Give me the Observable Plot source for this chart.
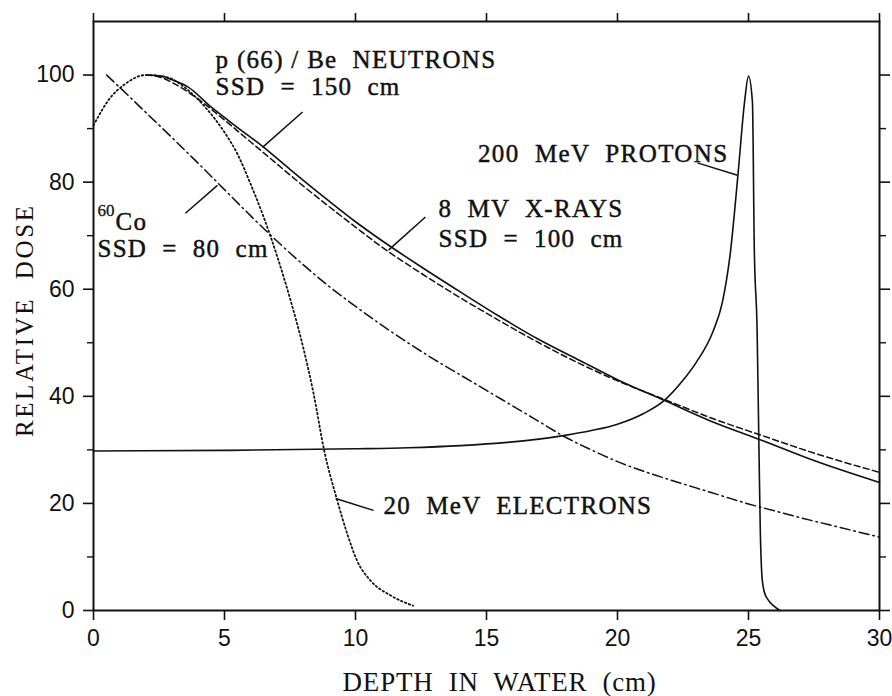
<!DOCTYPE html>
<html><head><meta charset="utf-8">
<script src="https://cdn.jsdelivr.net/npm/d3@7"></script>
<script src="https://cdn.jsdelivr.net/npm/@observablehq/plot@0.6"></script>
<style>
body{margin:0;background:#fff;}
svg text{white-space:pre;}
</style></head><body><div id="chart"></div>
<script>
// Depth (cm) and relative dose for each beam
const neutronDepth = [2.1, 2.6, 3.0, 3.6, 4.5, 5.5, 6.5, 7.5, 8.8, 10, 11, 12.5, 14, 15.5, 17, 18.6, 20, 21.8, 23.5, 25.5, 27.5, 30];
const neutronDose  = [100, 99.8, 99.1, 97.8, 94.0, 90.2, 86.5, 82.4, 77.2, 72.6, 69.1, 64.2, 59.5, 54.9, 50.6, 46.6, 43.1, 39.2, 35.5, 31.8, 28.0, 23.9];

const xrayDepth = [2.0, 2.6, 3.0, 4.0, 5.0, 6.0, 7.0, 8.0, 9.0, 10, 11, 12.5, 14, 15.5, 17, 18.6, 20, 21.8, 23.5, 25.5, 27.5, 30];
const xrayDose  = [100, 99.5, 98.6, 95.5, 91.6, 87.5, 83.4, 79.3, 75.4, 71.6, 67.9, 63.0, 58.4, 54.1, 50.0, 46.0, 42.9, 39.4, 36.1, 32.7, 29.4, 25.8];

const cobaltDepth = [0.5, 1, 2, 3, 4, 5, 6, 7, 8, 9, 10, 11, 12, 13, 14, 15, 16, 17, 18, 19, 20, 21, 22, 23, 24, 25, 26, 27, 28, 29, 30];
const cobaltDose  = [100, 97.7, 93.0, 88.3, 83.5, 78.6, 73.7, 69.0, 64.6, 60.5, 56.8, 53.3, 50.0, 46.9, 44.0, 41.1, 38.2, 35.3, 32.4, 30.0, 27.8, 26.0, 24.4, 22.9, 21.4, 19.9, 18.6, 17.3, 16.1, 14.9, 13.7];

const electronDepth = [0, 0.6, 1.2, 2.0, 2.8, 3.5, 4.3, 5.0, 5.5, 6.0, 6.5, 7.0, 7.5, 8.0, 8.4, 8.8, 9.3, 9.68, 10.06, 10.57, 11.34, 12.2];
const electronDose  = [90.6, 95.5, 98.3, 100, 99.6, 97.6, 93.8, 89.3, 85.2, 79.6, 73.4, 66.3, 58.3, 49.2, 40.5, 30.0, 20.6, 14.4, 9.3, 5.6, 2.8, 0.9];

const protonDepth = [0, 5, 10, 12, 14, 16, 17, 18, 19, 20, 21, 21.8, 22.5, 23, 23.66, 24, 24.3, 24.6, 24.85, 25.0, 25.15, 25.22, 25.33, 25.4, 25.45, 25.52, 25.6, 25.75, 25.95, 26.2];
const protonDose  = [29.8, 29.9, 30.2, 30.4, 30.8, 31.5, 32.0, 32.7, 33.6, 34.8, 36.8, 39.3, 43.0, 46.3, 52.3, 57.5, 66.5, 81.5, 95, 99.8, 95, 68, 52, 30, 15, 6, 3.5, 2.0, 0.9, 0];

// Tick values
const xTicks = [0, 5, 10, 15, 20, 25, 30];
const yMajorTicks = [0, 20, 40, 60, 80, 100];
const yMinorTicks = [10, 30, 50, 70, 90];

// Annotation labels (depth, dose, text)
const labelText  = ["p (66) / Be  NEUTRONS", "SSD  =  150  cm", "Co", "SSD  =  80  cm", "8  MV  X-RAYS", "SSD  =  100  cm", "20  MeV  ELECTRONS"];
const labelDepth = [4.66, 4.66, 0.84, 0.15, 13.17, 13.17, 11.07];
const labelDose  = [101.3, 96.3, 71.0, 66.0, 73.5, 67.9, 18.0];
const protonLabel = {text: "200  MeV  PROTONS", depth: 24.24, dose: 83.7};
const cobaltSup = {text: "60", depth: 0.15, dose: 73.6};

// Pointer lines (from label to curve)
const pointerX1 = [7.98, 3.51, 12.67, 23.05, 10.69];
const pointerY1 = [93.1, 74.2, 73.5, 83.6, 18.7];
const pointerX2 = [6.45, 4.73, 11.26, 24.58, 9.24];
const pointerY2 = [86.5, 79.4, 67.3, 81.3, 20.9];

const zipXY = (xs, ys) => xs.map((x, i) => ({x, y: ys[i]}));
const neutrons = zipXY(neutronDepth, neutronDose);
const xrays = zipXY(xrayDepth, xrayDose);
const cobalt = zipXY(cobaltDepth, cobaltDose);
const electrons = zipXY(electronDepth, electronDose);
const protons = zipXY(protonDepth, protonDose);
const labels = labelText.map((t, i) => ({text: t, x: labelDepth[i], y: labelDose[i]}));
const pointers = pointerX1.map((x1, i) => ({x1, y1: pointerY1[i], x2: pointerX2[i], y2: pointerY2[i]}));

const ink = "#111";
const serif = "Liberation Serif, Times New Roman, serif";
const labelFont = {fontFamily: serif, fontSize: 25, fill: ink, stroke: ink, strokeWidth: 0.45, lineAnchor: "bottom", textAnchor: "start"};

const chart = Plot.plot({
  width: 892, height: 696,
  marginLeft: 93, marginRight: 13, marginTop: 21, marginBottom: 86,
  style: {fontFamily: "Liberation Sans, sans-serif", background: "#fff", color: ink},
  x: {domain: [0, 30]},
  y: {domain: [0, 110]},
  marks: [
    Plot.axisX({anchor: "bottom", ticks: xTicks, tickSize: 10, tickPadding: 9, fontSize: 23, strokeWidth: 1.6, label: null}),
    Plot.axisX({anchor: "top", ticks: xTicks, tickSize: 9, tickFormat: () => "", strokeWidth: 1.6, label: null}),
    Plot.axisY({anchor: "left", ticks: yMajorTicks, tickSize: 10, tickPadding: 9, fontSize: 23, strokeWidth: 1.6, label: null}),
    Plot.axisY({anchor: "left", ticks: yMinorTicks, tickSize: 6, tickFormat: () => "", strokeWidth: 1.4, label: null}),
    Plot.axisY({anchor: "right", ticks: yMajorTicks, tickSize: 10, tickFormat: () => "", strokeWidth: 1.6, label: null}),
    Plot.axisY({anchor: "right", ticks: yMinorTicks, tickSize: 6, tickFormat: () => "", strokeWidth: 1.4, label: null}),
    Plot.frame({stroke: ink, strokeWidth: 2}),
    Plot.line(protons, {x: "x", y: "y", stroke: ink, strokeWidth: 1.6, curve: "monotone-x"}),
    Plot.line(neutrons, {x: "x", y: "y", stroke: ink, strokeWidth: 1.6, curve: "monotone-x"}),
    Plot.line(xrays, {x: "x", y: "y", stroke: ink, strokeWidth: 1.5, strokeDasharray: "6,3.5", curve: "monotone-x"}),
    Plot.line(cobalt, {x: "x", y: "y", stroke: ink, strokeWidth: 1.5, strokeDasharray: "10,4,1.5,4", curve: "monotone-x"}),
    Plot.line(electrons, {x: "x", y: "y", stroke: ink, strokeWidth: 1.8, strokeDasharray: "1.5,2.7", curve: "monotone-x"}),
    Plot.link(pointers, {x1: "x1", y1: "y1", x2: "x2", y2: "y2", stroke: ink, strokeWidth: 1.5}),
    Plot.text(labels, {x: "x", y: "y", text: "text", ...labelFont}),
    Plot.text([protonLabel], {x: "depth", y: "dose", text: "text", ...labelFont, textAnchor: "end"}),
    Plot.text([cobaltSup], {x: "depth", y: "dose", text: "text", ...labelFont, fontSize: 17, strokeWidth: 0.3}),
    Plot.text(["DEPTH  IN  WATER  (cm)"], {x: 15.5, frameAnchor: "bottom", dy: 80, text: d => d, fontFamily: serif, fontSize: 27, fill: ink, lineAnchor: "bottom", textAnchor: "middle"}),
    Plot.text(["RELATIVE  DOSE"], {y: 54.2, frameAnchor: "left", dx: -61, rotate: -90, text: d => d, fontFamily: serif, fontSize: 25, fill: ink, lineAnchor: "bottom", textAnchor: "middle"})
  ]
});
// letter spacing for the typewritten-looking labels (in mark order)
const spacing = [1.3, 1.4, 0, 0.8, 2.6];
d3.select(chart).selectAll('g[aria-label="text"]').each(function(_, i) {
  if (spacing[i]) d3.select(this).attr("letter-spacing", spacing[i]);
});
document.getElementById("chart").appendChild(chart);
</script></body></html>
